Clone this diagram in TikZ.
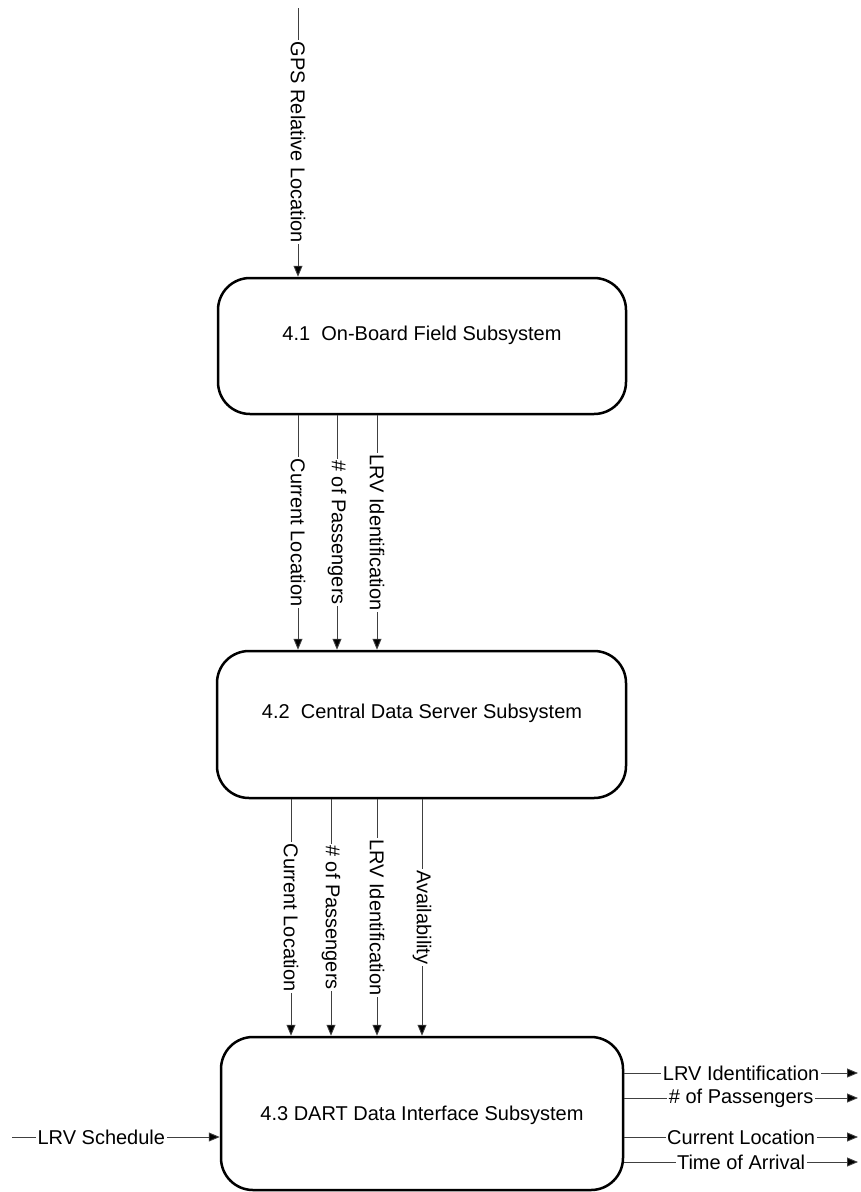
\documentclass[tikz,border=0pt]{standalone}
\usepackage{fontspec}
\setmainfont{Liberation Sans}
\usetikzlibrary{arrows.meta}
\tikzset{
  procbox/.style={draw=black, line width=2.5pt, rectangle, rounded corners=32pt, inner sep=0pt},
  boxtext/.style={inner sep=0pt, font=\fontsize{20pt}{24pt}\selectfont},
  flow/.style={draw=black!75, line width=0.9pt, -{Triangle[length=11pt,width=9pt,fill=black]}},
  plainflow/.style={draw=black!75, line width=0.9pt},
  vlabel/.style={fill=white, inner sep=1.5pt, rotate=-90, font=\fontsize{20pt}{24pt}\selectfont},
  hlabel/.style={fill=white, inner sep=1.5pt, font=\fontsize{20pt}{24pt}\selectfont},
}
\begin{document}
\begin{tikzpicture}[x=1pt,y=-1pt]
\useasboundingbox (0,0) rectangle (861,1192);
% boxes
\node[procbox, minimum width=408pt, minimum height=136pt] (b1) at (422,346) {};
\node[procbox, minimum width=409pt, minimum height=147pt] (b2) at (421.5,724.5) {};
\node[procbox, minimum width=402pt, minimum height=153pt] (b3) at (422,1113.5) {};
\node[boxtext] (t1) at (422,335) {4.1\ \ On-Board Field Subsystem};
\node[boxtext] (t2) at (422,713) {4.2\ \ Central Data Server Subsystem};
\node[boxtext] (t3) at (422,1115) {4.3 DART Data Interface Subsystem};
% x positions
\coordinate (xg) at (298,0);
\coordinate (xa1) at (298,0);
\coordinate (xa2) at (337,0);
\coordinate (xa3) at (377,0);
\coordinate (xc1) at (291,0);
\coordinate (xc2) at (331,0);
\coordinate (xc3) at (377,0);
\coordinate (xc4) at (422,0);
% top input
\coordinate (gtop) at (298,8);
\draw[flow] (gtop) -- node[vlabel, midway] {GPS Relative Location} (b1.north -| xg);
% box1 -> box2
\draw[flow] (b1.south -| xa1) -- node[vlabel, midway] {Current Location} (b2.north -| xa1);
\draw[flow] (b1.south -| xa2) -- node[vlabel, midway] {\# of Passengers} (b2.north -| xa2);
\draw[flow] (b1.south -| xa3) -- node[vlabel, midway] {LRV Identification} (b2.north -| xa3);
% box2 -> box3
\draw[flow] (b2.south -| xc1) -- node[vlabel, midway] {Current Location} (b3.north -| xc1);
\draw[flow] (b2.south -| xc2) -- node[vlabel, midway] {\# of Passengers} (b3.north -| xc2);
\draw[flow] (b2.south -| xc3) -- node[vlabel, midway] {LRV Identification} (b3.north -| xc3);
\draw[flow] (b2.south -| xc4) -- node[vlabel, midway] {Availability} (b3.north -| xc4);
% left input
\coordinate (lin) at (12,1137);
\draw[flow] (lin) -- node[hlabel, pos=0.43] {LRV Schedule} (b3.west |- lin);
% right outputs
\coordinate (o1) at (858,1073);
\coordinate (o2) at (858,1098);
\coordinate (o3) at (858,1137);
\coordinate (o4) at (858,1162);
\draw[flow] (b3.east |- o1) -- node[hlabel, midway] {LRV Identification} (o1);
\draw[flow] (b3.east |- o2) -- node[hlabel, midway] {\# of Passengers} (o2);
\draw[flow] (b3.east |- o3) -- node[hlabel, midway] {Current Location} (o3);
\draw[flow] (b3.east |- o4) -- node[hlabel, midway] {Time of Arrival} (o4);
\end{tikzpicture}
\end{document}
